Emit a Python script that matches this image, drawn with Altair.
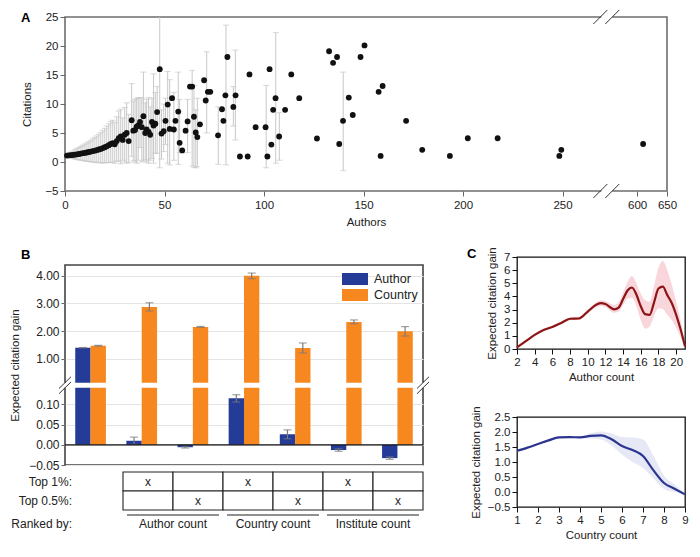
import altair as alt
import pandas as pd

FONT = "Liberation Sans"

# ---------------- Panel A data ----------------
dense_x = [1, 2, 3, 4, 5, 6, 7, 8, 9, 10, 11, 12, 13, 14, 15, 16, 17, 18, 19, 20,
           21, 22, 23, 24, 25, 26, 27, 28, 29, 30, 31, 32]
dense_y = [1.10, 1.15, 1.18, 1.22, 1.27, 1.32, 1.38, 1.45, 1.52, 1.58, 1.64, 1.72, 1.80, 1.88,
           1.96, 2.05, 2.15, 2.25, 2.40, 2.55, 2.70, 2.90, 3.10, 3.25, 3.05, 3.60, 4.10, 4.40,
           3.80, 4.70, 5.00, 3.60]
dense_hi = [1.30, 1.50, 1.70, 1.90, 2.10, 2.30, 2.50, 2.70, 2.90, 3.10, 3.30, 3.50, 3.75, 4.00,
            4.25, 4.50, 4.80, 5.10, 5.45, 5.80, 6.20, 6.60, 7.00, 7.20, 6.80, 7.80, 8.80, 9.10,
            7.60, 9.40, 10.2, 8.20]
dense_lo = [0.90, 0.80, 0.70, 0.60, 0.50, 0.42, 0.36, 0.30, 0.24, 0.18, 0.12, 0.08, 0.04, 0.00,
            -0.05, -0.10, -0.10, -0.15, -0.15, -0.15, -0.10, -0.10, -0.05, -0.05, -0.20, 0.20,
            0.10, -0.30, 0.30, 0.00, -0.20, -0.10]

sparse_x = [33.5, 34.3, 35.2, 36.0, 36.8, 37.7, 38.6, 39.4, 40.3, 41.0, 42.0, 42.8, 43.7, 44.5,
            45.4, 46.3, 47.6, 48.5, 49.6, 50.5, 51.6, 52.6, 53.8, 54.7, 55.5, 56.9, 57.6, 58.9,
            60.6, 61.6, 62.8, 63.9, 64.8, 65.7, 66.5, 67.8, 69.9, 70.7, 71.8, 73.0, 76.9, 78.9,
            79.6, 80.6, 81.6, 84.6, 85.7, 87.9, 91.8, 92.7, 95.8, 100.8, 101.7, 102.8, 103.7,
            104.6, 105.8, 107.6, 110.6, 113.7, 117.7, 126.6, 132.7, 134.7, 136.7, 137.8, 139.7,
            142.6, 144.6, 148.5, 150.5, 157.6, 158.6, 159.6, 171.4, 179.5, 193.4, 202.4, 217.4,
            248.4, 249.4, 610.0]
sparse_y = [7.2, 5.4, 5.5, 6.1, 6.3, 6.9, 6.0, 7.9, 5.0, 5.6, 5.2, 4.7, 6.9, 6.3,
            6.6, 8.6, 16.0, 4.9, 5.3, 7.1, 9.9, 5.7, 11.0, 5.6, 7.1, 8.7, 3.3, 2.0,
            5.4, 7.0, 13.0, 13.0, 7.8, 5.1, 4.3, 6.5, 14.1, 10.6, 12.1, 12.1, 4.6, 9.1,
            7.1, 11.5, 18.1, 9.5, 11.5, 0.95, 0.95, 15.1, 6.0, 6.0, 0.95, 16.0, 3.0,
            9.0, 11.0, 4.4, 9.0, 15.1, 11.0, 4.05, 19.1, 17.1, 18.1, 3.1, 7.1,
            11.1, 8.1, 18.1, 20.1, 12.1, 1.05, 13.1, 7.1, 2.1, 1.05, 4.1, 4.1,
            1.05, 2.1, 3.1]

bar_x = [33.5, 34.3, 35.2, 36.0, 36.8, 37.7, 38.6, 39.4, 40.3, 41.0, 42.0, 42.8, 43.7, 44.5,
         45.4, 46.3, 47.6, 48.5, 49.6, 50.5, 51.6, 52.6, 54.7, 56.9, 57.6, 61.6, 63.9, 64.8,
         65.7, 66.5, 71.2, 77.0, 80.9, 84.6, 85.6, 101.1, 105.9, 107.7, 139.8]
bar_lo = [1.0, 0.2, 0.0, -0.2, 0.3, 2.5, 0.0, 0.2, 0.4, 0.0, -0.2, 0.3, 0.6, -0.2,
          1.5, 1.5, -1.0, 0.5, 1.8, 3.0, -0.2, -0.5, 0.3, -0.4, 1.6, 1.6, -0.7, -0.9,
          -1.0, -0.8, 5.0, -0.4, -0.5, 6.2, 3.8, -1.0, -0.2, 0.3, -1.5]
bar_hi = [13.5, 10.5, 10.8, 11.0, 11.1, 11.1, 11.0, 15.5, 10.2, 10.8, 11.1, 9.5, 11.0, 15.2,
          12.0, 13.0, 30.0, 9.0, 10.0, 11.0, 15.6, 14.2, 12.0, 15.5, 10.8, 10.8, 15.8, 13.2,
          9.0, 11.0, 19.0, 9.5, 23.6, 13.0, 19.3, 13.2, 22.3, 8.5, 15.5]

a_ticks = [0, 50, 100, 150, 200, 250, 600, 650]

# ---------------- Panel B data ----------------
b_groups = ["All", "A1", "A05", "C1", "C05", "I1", "I05"]
author_val = [1.40, 0.010, -0.006, 0.115, 0.026, -0.013, -0.033]
author_err = [0.006, 0.009, 0.002, 0.009, 0.011, 0.003, 0.003]
country_val = [1.47, 2.87, 2.15, 3.99, 1.39, 2.33, 1.99]
country_err = [0.015, 0.15, 0.015, 0.10, 0.18, 0.07, 0.17]
b_ticks = [-0.05, 0.0, 0.05, 0.10, 1.0, 2.0, 3.0, 4.0]
b_tick_labels = ["\u22120.05", "0.00", "0.05", "0.10", "1.00", "2.00", "3.00", "4.00"]
b_series = ["Author", "Country"]

table_top1 = ["x", "", "x", "", "x", ""]
table_top05 = ["", "x", "", "x", "", "x"]
row_labels = ["Top 1%:", "Top 0.5%:", "Ranked by:"]
ranked_labels = ["Author count", "Country count", "Institute count"]

# ---------------- Panel C data ----------------
c1_x = [2, 3, 4, 5, 6, 7, 8, 9, 10, 11, 11.5, 12, 13, 13.5, 14, 14.5, 15, 15.5, 16, 16.5,
        17, 17.5, 18, 18.5, 19, 19.5, 20, 20.5, 21]
c1_y = [0.12, 0.6, 1.07, 1.45, 1.68, 1.98, 2.3, 2.32, 2.85, 3.38, 3.49, 3.42, 3.02, 3.15,
        3.8, 4.45, 4.68, 4.15, 3.25, 2.65, 2.6, 3.55, 4.6, 4.75, 4.1, 3.5, 2.6, 1.5, 0.2]
c1_lo = [0.08, 0.52, 1.0, 1.38, 1.6, 1.9, 2.2, 2.2, 2.7, 3.2, 3.28, 3.18, 2.75, 2.85,
         3.35, 3.85, 3.9, 3.3, 2.2, 1.55, 1.7, 2.5, 3.1, 3.05, 2.6, 2.2, 1.6, 0.9, 0.1]
c1_hi = [0.16, 0.68, 1.14, 1.52, 1.76, 2.06, 2.4, 2.45, 3.0, 3.55, 3.7, 3.65, 3.35, 3.55,
         4.3, 5.1, 5.55, 5.0, 4.2, 3.7, 3.6, 4.8, 6.2, 6.7, 6.0, 4.9, 3.6, 2.2, 0.3]

c2_x = [1, 1.5, 2, 2.5, 3, 3.5, 4, 4.5, 5, 5.5, 6, 6.5, 7, 7.5, 8, 8.5, 9]
c2_y = [1.37, 1.48, 1.6, 1.72, 1.82, 1.83, 1.82, 1.87, 1.89, 1.76, 1.53, 1.4, 1.2, 0.72,
        0.3, 0.11, -0.08]
c2_lo = [1.35, 1.46, 1.58, 1.7, 1.8, 1.8, 1.78, 1.78, 1.75, 1.55, 1.25, 1.0, 0.8, 0.45,
         0.1, 0.0, -0.1]
c2_hi = [1.39, 1.5, 1.62, 1.74, 1.84, 1.86, 1.86, 1.96, 2.02, 1.95, 1.83, 1.82, 1.75, 1.2,
         0.55, 0.25, -0.05]

# =====================================================================
# Panel A
# =====================================================================
A_W, A_H = 602, 174


def comp(x):
    # compressed axis after the break (600-650 squeezed)
    return x if x < 300 else 287.5 + (x - 600) * 0.3


pts = pd.DataFrame({"x": [comp(v) for v in dense_x + sparse_x], "y": dense_y + sparse_y})
errs = pd.DataFrame({"x": [comp(v) for v in dense_x + bar_x],
                     "lo": dense_lo + bar_lo, "hi": dense_hi + bar_hi})

xsA = alt.Scale(domain=[0, 302.5], nice=False, zero=False)
ysA = alt.Scale(domain=[-5, 25], nice=False, zero=False)
a_tick_pos = [comp(v) for v in a_ticks]
label_expr_a = " : ".join(
    [f"abs(datum.value - {p}) < 0.01 ? '{t}'" for p, t in zip(a_tick_pos, a_ticks)]) + " : ''"
axA_x = alt.Axis(values=a_tick_pos, labelExpr=label_expr_a, title="Authors", tickSize=5,
                 tickColor="#666", labelFontSize=11.5, titleFontSize=11.5, labelPadding=3,
                 titlePadding=6, labelOverlap=False, labelFlush=False)
axA_y = alt.Axis(values=[-5, 0, 5, 10, 15, 20, 25], title="Citations", tickSize=5,
                 tickColor="#666", labelFontSize=11.5, titleFontSize=11.5, titlePadding=12,
                 labelOverlap=False, labelFlush=False)

ERR_C = "#c8c8c8"
a_rule = alt.Chart(errs).mark_rule(color=ERR_C, strokeWidth=1, clip=True).encode(
    x=alt.X("x:Q", scale=xsA, axis=axA_x, title="Authors"),
    y=alt.Y("lo:Q", scale=ysA, axis=axA_y, title="Citations"),
    y2="hi:Q")
a_cap_lo = alt.Chart(errs).mark_tick(orient="horizontal", color=ERR_C, size=6, thickness=1,
                                     clip=True).encode(
    x=alt.X("x:Q", scale=xsA, axis=axA_x, title="Authors"),
    y=alt.Y("lo:Q", scale=ysA, axis=axA_y, title="Citations"))
a_cap_hi = alt.Chart(errs).mark_tick(orient="horizontal", color=ERR_C, size=6, thickness=1,
                                     clip=True).encode(
    x=alt.X("x:Q", scale=xsA, axis=axA_x, title="Authors"),
    y=alt.Y("hi:Q", scale=ysA, axis=axA_y, title="Citations"))
a_pts = alt.Chart(pts).mark_circle(size=34, color="#111111", opacity=1).encode(
    x=alt.X("x:Q", scale=xsA, axis=axA_x, title="Authors"),
    y=alt.Y("y:Q", scale=ysA, axis=axA_y, title="Citations"))

brk = pd.DataFrame({"a": [265.5, 271.5], "b": [272.5, 278.5]})
gapA = pd.DataFrame({"a": [269.5], "b": [275.0]})
a_gap_top = alt.Chart(gapA).mark_rect(color="white").encode(
    x=alt.X("a:Q", scale=xsA, axis=axA_x, title="Authors"), x2="b:Q",
    y=alt.value(-3), y2=alt.value(3))
a_gap_bot = alt.Chart(gapA).mark_rect(color="white").encode(
    x=alt.X("a:Q", scale=xsA, axis=axA_x, title="Authors"), x2="b:Q",
    y=alt.value(A_H - 3), y2=alt.value(A_H + 3))
a_sl_top = alt.Chart(brk).mark_rule(color="#333", strokeWidth=1).encode(
    x=alt.X("a:Q", scale=xsA, axis=axA_x, title="Authors"), x2="b:Q",
    y=alt.value(7), y2=alt.value(-7))
a_sl_bot = alt.Chart(brk).mark_rule(color="#333", strokeWidth=1).encode(
    x=alt.X("a:Q", scale=xsA, axis=axA_x, title="Authors"), x2="b:Q",
    y=alt.value(A_H + 7), y2=alt.value(A_H - 7))
a_letter = alt.Chart(pd.DataFrame({"t": ["A"]})).mark_text(
    fontWeight="bold", fontSize=13, align="left", baseline="middle").encode(
    x=alt.value(-44), y=alt.value(1), text="t:N")

chartA = alt.layer(a_rule, a_cap_lo, a_cap_hi, a_pts, a_gap_top, a_gap_bot, a_sl_top,
                   a_sl_bot, a_letter).properties(
    width=A_W, height=A_H, view=alt.ViewBackground(stroke="#6e6e6e", strokeWidth=1.6))

# =====================================================================
# Panel B
# =====================================================================
B_W, B_H = 358, 200


def fb(v):
    # broken axis: bottom segment [-0.05, 0.14], top segment [0.14, 4.38]
    return (v + 0.05) * 412.0 if v < 0.13 else 84.0 + (v - 0.14) * 28.3


rows = []
for g, av, ae, cv, ce in zip(b_groups, author_val, author_err, country_val, country_err):
    rows.append({"group": g, "series": "Author", "y0": fb(0), "y1": fb(av),
                 "elo": fb(av - ae), "ehi": fb(av + ae)})
    rows.append({"group": g, "series": "Country", "y0": fb(0), "y1": fb(cv),
                 "elo": fb(cv - ce), "ehi": fb(cv + ce)})
bdf = pd.DataFrame(rows)

b_tick_pos = [round(fb(t), 3) for t in b_ticks]
label_expr_b = " : ".join(
    [f"abs(datum.value - {p}) < 0.01 ? '{t}'" for p, t in zip(b_tick_pos, b_tick_labels)]) + " : ''"
ysB = alt.Scale(domain=[0, 204], nice=False, zero=False)
xsB = alt.Scale(domain=b_groups, paddingInner=0.4, paddingOuter=0.2)
xoB = alt.Scale(domain=b_series)
axB_y = alt.Axis(values=b_tick_pos, labelExpr=label_expr_b, title="Expected citation gain",
                 grid=True, gridColor="#e4e4e4", tickSize=4, tickColor="#666",
                 labelFontSize=12, titleFontSize=11.5, titlePadding=8,
                 labelOverlap=False, labelFlush=False)
YT = "Expected citation gain"

b_colors = alt.Scale(domain=b_series, range=["#243b98", "#f7881f"])
b_bars = alt.Chart(bdf).mark_bar().encode(
    x=alt.X("group:N", scale=xsB, axis=None, sort=b_groups),
    xOffset=alt.XOffset("series:N", scale=xoB),
    y=alt.Y("y1:Q", scale=ysB, axis=axB_y, title=YT),
    y2="y0:Q",
    color=alt.Color("series:N", scale=b_colors, legend=None))
b_err = alt.Chart(bdf).mark_rule(color="#7a7a7a", strokeWidth=1.2).encode(
    x=alt.X("group:N", scale=xsB, axis=None, sort=b_groups),
    xOffset=alt.XOffset("series:N", scale=xoB),
    y=alt.Y("elo:Q", scale=ysB, axis=axB_y, title=YT), y2="ehi:Q")
b_cap_lo = alt.Chart(bdf).mark_tick(orient="horizontal", color="#7a7a7a", size=8,
                                    thickness=1.2).encode(
    x=alt.X("group:N", scale=xsB, axis=None, sort=b_groups),
    xOffset=alt.XOffset("series:N", scale=xoB),
    y=alt.Y("elo:Q", scale=ysB, axis=axB_y, title=YT))
b_cap_hi = alt.Chart(bdf).mark_tick(orient="horizontal", color="#7a7a7a", size=8,
                                    thickness=1.2).encode(
    x=alt.X("group:N", scale=xsB, axis=None, sort=b_groups),
    xOffset=alt.XOffset("series:N", scale=xoB),
    y=alt.Y("ehi:Q", scale=ysB, axis=axB_y, title=YT))
zero_df = pd.DataFrame({"z": [fb(0)]})
b_zero = alt.Chart(zero_df).mark_rule(color="#111", strokeWidth=1.2).encode(
    y=alt.Y("z:Q", scale=ysB, axis=axB_y, title=YT))
gapB = pd.DataFrame({"lo": [78.7], "hi": [84.0]})
b_gap = alt.Chart(gapB).mark_rect(color="white").encode(
    x=alt.value(-5), x2=alt.value(B_W + 5),
    y=alt.Y("lo:Q", scale=ysB, axis=axB_y, title=YT), y2="hi:Q")
slB = pd.DataFrame({"a": [78.7 - 6, 84.0 - 6], "b": [78.7 + 6, 84.0 + 6]})
b_sl_l = alt.Chart(slB).mark_rule(color="#333", strokeWidth=1).encode(
    x=alt.value(-6), x2=alt.value(6),
    y=alt.Y("a:Q", scale=ysB, axis=axB_y, title=YT), y2="b:Q")
b_sl_r = alt.Chart(slB).mark_rule(color="#333", strokeWidth=1).encode(
    x=alt.value(B_W - 6), x2=alt.value(B_W + 6),
    y=alt.Y("a:Q", scale=ysB, axis=axB_y, title=YT), y2="b:Q")
b_letter = alt.Chart(pd.DataFrame({"t": ["B"]})).mark_text(
    fontWeight="bold", fontSize=13, align="left", baseline="middle").encode(
    x=alt.value(-44), y=alt.value(-10), text="t:N")

# legend drawn inside the plot (top right)
leg_layers = []
for k, s in enumerate(b_series):
    ldf = pd.DataFrame({"series": [s]})
    leg_layers.append(alt.Chart(ldf).mark_rect().encode(
        x=alt.value(277), x2=alt.value(303),
        y=alt.value(8 + 16 * k), y2=alt.value(20 + 16 * k),
        color=alt.Color("series:N", scale=b_colors, legend=None)))
    leg_layers.append(alt.Chart(ldf).mark_text(
        align="left", baseline="middle", fontSize=12.5, color="#222").encode(
        x=alt.value(309), y=alt.value(14 + 16 * k), text="series:N"))

chartB = alt.layer(b_bars, b_err, b_cap_lo, b_cap_hi, b_zero, b_gap, b_sl_l, b_sl_r,
                   b_letter, *leg_layers).properties(
    width=B_W, height=B_H, view=alt.ViewBackground(stroke="#444", strokeWidth=1.6))

# ---- table under panel B ----
cells = []
for i, (m1, m2) in enumerate(zip(table_top1, table_top05)):
    cells.append({"x0": i, "x1": i + 1, "xc": i + 0.5, "y0": 0, "y1": 1, "yc": 0.5, "m": m1})
    cells.append({"x0": i, "x1": i + 1, "xc": i + 0.5, "y0": 1, "y1": 2, "yc": 1.5, "m": m2})
cdf = pd.DataFrame(cells)
tx = alt.Scale(domain=[-1.16, 6], nice=False, zero=False)
ty = alt.Scale(domain=[0, 3], nice=False, zero=False, reverse=True)
t_cells = alt.Chart(cdf).mark_rect(fill="white", stroke="#222", strokeWidth=1.1).encode(
    x=alt.X("x0:Q", scale=tx, axis=None), x2="x1:Q",
    y=alt.Y("y0:Q", scale=ty, axis=None), y2="y1:Q")
t_marks = alt.Chart(cdf).mark_text(fontSize=12, color="#222").encode(
    x=alt.X("xc:Q", scale=tx, axis=None), y=alt.Y("yc:Q", scale=ty, axis=None), text="m:N")
rl = pd.DataFrame({"label": row_labels, "yc": [0.5, 1.5, 2.74]})
t_rows = alt.Chart(rl).mark_text(fontSize=12, align="right", color="#222").encode(
    x=alt.value(7), y=alt.Y("yc:Q", scale=ty, axis=None), text="label:N")
gl = pd.DataFrame({"label": ranked_labels,
                   "a": [2 * k + 0.08 for k in range(3)],
                   "b": [2 * k + 1.92 for k in range(3)],
                   "xc": [2 * k + 1.0 for k in range(3)],
                   "yl": [2.26] * 3, "yt": [2.74] * 3})
t_lines = alt.Chart(gl).mark_rule(color="#222", strokeWidth=1.1).encode(
    x=alt.X("a:Q", scale=tx, axis=None), x2="b:Q", y=alt.Y("yl:Q", scale=ty, axis=None))
t_glab = alt.Chart(gl).mark_text(fontSize=12, color="#222").encode(
    x=alt.X("xc:Q", scale=tx, axis=None), y=alt.Y("yt:Q", scale=ty, axis=None), text="label:N")
table = alt.layer(t_cells, t_marks, t_rows, t_lines, t_glab).properties(width=B_W, height=57)

spacer = alt.Chart(pd.DataFrame({"v": [0]})).mark_point(opacity=0).encode(
    x=alt.X("v:Q", axis=None), y=alt.Y("v:Q", axis=None)).properties(width=B_W, height=1)

# =====================================================================
# Panel C
# =====================================================================
C_W = 168
axC = dict(tickSize=5, tickColor="#111", labelFontSize=11.5, titleFontSize=11.5,
           labelColor="#222", titleColor="#222", labelOverlap=False, labelFlush=False)

c1 = pd.DataFrame({"x": c1_x, "y": c1_y, "lo": c1_lo, "hi": c1_hi})
xs1 = alt.Scale(domain=[2, 21], nice=False, zero=False)
ys1 = alt.Scale(domain=[0, 7], nice=False, zero=False)
ax1x = alt.Axis(values=[2, 4, 6, 8, 10, 12, 14, 16, 18, 20], **axC)
ax1y = alt.Axis(values=[0, 1, 2, 3, 4, 5, 6, 7], titlePadding=6, **axC)
c1_band = alt.Chart(c1).mark_area(color="#f9d6dc", interpolate="monotone").encode(
    x=alt.X("x:Q", scale=xs1, title="Author count", axis=ax1x),
    y=alt.Y("lo:Q", scale=ys1, title=YT, axis=ax1y),
    y2="hi:Q")
c1_line = alt.Chart(c1).mark_line(color="#8c1515", strokeWidth=2.2,
                                  interpolate="monotone").encode(
    x=alt.X("x:Q", scale=xs1, title="Author count", axis=ax1x),
    y=alt.Y("y:Q", scale=ys1, title=YT, axis=ax1y))
c_letter = alt.Chart(pd.DataFrame({"t": ["C"]})).mark_text(
    fontWeight="bold", fontSize=13, align="left", baseline="middle").encode(
    x=alt.value(-50), y=alt.value(-3), text="t:N")
chartC1 = alt.layer(c1_band, c1_line, c_letter).properties(
    width=C_W, height=92, view=alt.ViewBackground(stroke="#111", strokeWidth=1.3))

c2 = pd.DataFrame({"x": c2_x, "y": c2_y, "lo": c2_lo, "hi": c2_hi})
xs2 = alt.Scale(domain=[1, 9], nice=False, zero=False)
ys2 = alt.Scale(domain=[-0.5, 2.5], nice=False, zero=False)
ax2x = alt.Axis(values=[1, 2, 3, 4, 5, 6, 7, 8, 9], **axC)
ax2y = alt.Axis(values=[-0.5, 0, 0.5, 1.0, 1.5, 2.0, 2.5], format=".1f", titlePadding=6, **axC)
c2_band = alt.Chart(c2).mark_area(color="#e6e8f6", interpolate="monotone").encode(
    x=alt.X("x:Q", scale=xs2, title="Country count", axis=ax2x),
    y=alt.Y("lo:Q", scale=ys2, title=YT, axis=ax2y),
    y2="hi:Q")
c2_line = alt.Chart(c2).mark_line(color="#2b3590", strokeWidth=2.2,
                                  interpolate="monotone").encode(
    x=alt.X("x:Q", scale=xs2, title="Country count", axis=ax2x),
    y=alt.Y("y:Q", scale=ys2, title=YT, axis=ax2y))
chartC2 = alt.layer(c2_band, c2_line).properties(
    width=C_W, height=90, view=alt.ViewBackground(stroke="#111", strokeWidth=1.3))

# =====================================================================
# Layout
# =====================================================================
colB = alt.vconcat(spacer, chartB, table, spacing=7, bounds="flush")
colC = alt.vconcat(chartC1, chartC2, spacing=68, bounds="flush")
# nested flush groups report no width, so the spacing carries panel B's width + gap
bottom = alt.hconcat(colB, colC, spacing=B_W + 94, bounds="flush")
chart = alt.vconcat(chartA, bottom, spacing=66, bounds="flush").properties(
    padding={"left": 0, "top": 0, "right": 0, "bottom": 0}
).configure_view(stroke="transparent").configure_axis(
    labelFont=FONT, titleFont=FONT, titleFontWeight="normal", grid=False, domain=False,
    labelColor="#222", titleColor="#222", labelOverlap=False, labelFlush=False
).configure_text(font=FONT)

chart.save("out.html", embed_options={"renderer": "svg", "actions": False})
